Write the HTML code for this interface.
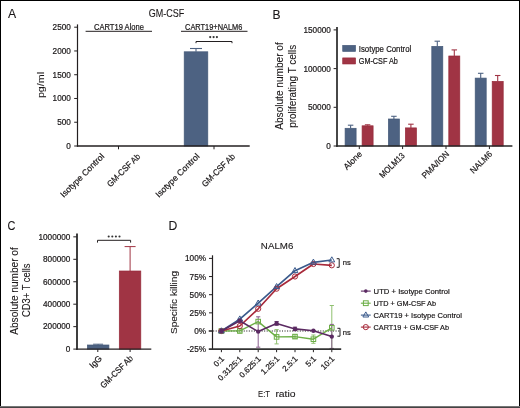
<!DOCTYPE html>
<html><head><meta charset="utf-8"><style>
html,body{margin:0;padding:0;background:#fff;}
body{width:520px;height:408px;overflow:hidden;}
svg{display:block;font-family:"Liberation Sans", sans-serif;will-change:transform;}
text{stroke:#1a1718;stroke-width:0.2px;}text.L{stroke-width:0.1px;}
</style></head><body>
<svg width="520" height="408" viewBox="0 0 520 408">
<rect x="0" y="0" width="520" height="408" fill="#fff"/>
<text x="8" y="18.4" font-size="12.2" text-anchor="start" fill="#1a1718" class="L">A</text>
<text x="166.6" y="16.6" font-size="10.6" text-anchor="middle" fill="#1a1718" textLength="35.5" lengthAdjust="spacingAndGlyphs" class="L">GM-CSF</text>
<line x1="74.2" y1="146.0" x2="77.5" y2="146.0" stroke="#231f20" stroke-width="1"/>
<text x="70.8" y="149.0" font-size="8.2" text-anchor="end" fill="#1a1718">0</text>
<line x1="74.2" y1="122.24" x2="77.5" y2="122.24" stroke="#231f20" stroke-width="1"/>
<text x="70.8" y="125.24" font-size="8.2" text-anchor="end" fill="#1a1718">500</text>
<line x1="74.2" y1="98.48" x2="77.5" y2="98.48" stroke="#231f20" stroke-width="1"/>
<text x="70.8" y="101.48" font-size="8.2" text-anchor="end" fill="#1a1718">1000</text>
<line x1="74.2" y1="74.72" x2="77.5" y2="74.72" stroke="#231f20" stroke-width="1"/>
<text x="70.8" y="77.72" font-size="8.2" text-anchor="end" fill="#1a1718">1500</text>
<line x1="74.2" y1="50.96" x2="77.5" y2="50.96" stroke="#231f20" stroke-width="1"/>
<text x="70.8" y="53.96" font-size="8.2" text-anchor="end" fill="#1a1718">2000</text>
<line x1="74.2" y1="27.2" x2="77.5" y2="27.2" stroke="#231f20" stroke-width="1"/>
<text x="70.8" y="30.2" font-size="8.2" text-anchor="end" fill="#1a1718">2500</text>
<text transform="translate(44.3,85) rotate(-90)" font-size="9.5" text-anchor="middle" fill="#1a1718" textLength="26.2" lengthAdjust="spacingAndGlyphs" class="L">pg/ml</text>
<line x1="118.5" y1="146.0" x2="118.5" y2="149.3" stroke="#231f20" stroke-width="1"/>
<line x1="214" y1="146.0" x2="214" y2="149.3" stroke="#231f20" stroke-width="1"/>
<text x="119" y="29.6" font-size="8.2" text-anchor="middle" fill="#1a1718" textLength="50" lengthAdjust="spacingAndGlyphs">CART19 Alone</text>
<line x1="85.6" y1="31.3" x2="152" y2="31.3" stroke="#231f20" stroke-width="1"/>
<text x="213.7" y="29.6" font-size="8.2" text-anchor="middle" fill="#1a1718" textLength="57.2" lengthAdjust="spacingAndGlyphs">CART19+NALM6</text>
<line x1="181" y1="31.3" x2="247.5" y2="31.3" stroke="#231f20" stroke-width="1"/>
<path d="M196,43.2 L196,41.5 L232,41.5 L232,43.2" stroke="#231f20" stroke-width="1" fill="none"/>
<circle cx="210.2" cy="37.1" r="1.1" fill="#333"/>
<circle cx="213.6" cy="37.1" r="1.1" fill="#333"/>
<circle cx="216.9" cy="37.1" r="1.1" fill="#333"/>
<rect x="184.2" y="51.8" width="23.6" height="94.2" fill="#4d6282" stroke="#435877" stroke-width="0.7"/>
<line x1="196" y1="48.5" x2="196" y2="51.8" stroke="#4d6282" stroke-width="1.1"/>
<line x1="190.0" y1="48.5" x2="202.0" y2="48.5" stroke="#4d6282" stroke-width="1.1"/>
<text transform="translate(104.8,157) rotate(-45)" font-size="8.6" text-anchor="end" fill="#1a1718" textLength="58" lengthAdjust="spacingAndGlyphs">Isotype Control</text>
<text transform="translate(140.8,157) rotate(-45)" font-size="8.6" text-anchor="end" fill="#1a1718" textLength="43" lengthAdjust="spacingAndGlyphs">GM-CSF Ab</text>
<text transform="translate(200,157) rotate(-45)" font-size="8.6" text-anchor="end" fill="#1a1718" textLength="58" lengthAdjust="spacingAndGlyphs">Isotype Control</text>
<text transform="translate(235.6,157) rotate(-45)" font-size="8.6" text-anchor="end" fill="#1a1718" textLength="43" lengthAdjust="spacingAndGlyphs">GM-CSF Ab</text>
<text x="272.4" y="18.6" font-size="12.0" text-anchor="start" fill="#1a1718" class="L">B</text>
<line x1="333.6" y1="146.0" x2="337.0" y2="146.0" stroke="#231f20" stroke-width="1"/>
<text x="330.8" y="149.0" font-size="8.2" text-anchor="end" fill="#1a1718">0</text>
<line x1="333.6" y1="107.3" x2="337.0" y2="107.3" stroke="#231f20" stroke-width="1"/>
<text x="330.8" y="110.3" font-size="8.2" text-anchor="end" fill="#1a1718">50000</text>
<line x1="333.6" y1="68.6" x2="337.0" y2="68.6" stroke="#231f20" stroke-width="1"/>
<text x="330.8" y="71.6" font-size="8.2" text-anchor="end" fill="#1a1718">100000</text>
<line x1="333.6" y1="29.9" x2="337.0" y2="29.9" stroke="#231f20" stroke-width="1"/>
<text x="330.8" y="32.9" font-size="8.2" text-anchor="end" fill="#1a1718">150000</text>
<text transform="translate(283,86) rotate(-90)" font-size="10.5" text-anchor="middle" fill="#1a1718" textLength="87.5" lengthAdjust="spacingAndGlyphs" class="L">Absolute number of</text>
<text transform="translate(295.7,86.3) rotate(-90)" font-size="10.5" text-anchor="middle" fill="#1a1718" textLength="83" lengthAdjust="spacingAndGlyphs" class="L">proliferating T cells</text>
<line x1="359.3" y1="146.0" x2="359.3" y2="149.1" stroke="#231f20" stroke-width="1"/>
<line x1="402.6" y1="146.0" x2="402.6" y2="149.1" stroke="#231f20" stroke-width="1"/>
<line x1="446.0" y1="146.0" x2="446.0" y2="149.1" stroke="#231f20" stroke-width="1"/>
<line x1="489.4" y1="146.0" x2="489.4" y2="149.1" stroke="#231f20" stroke-width="1"/>
<rect x="345.1" y="128.3" width="11.0" height="17.7" fill="#4d6282" stroke="#435877" stroke-width="0.7"/>
<line x1="350.6" y1="125.2" x2="350.6" y2="128.3" stroke="#4d6282" stroke-width="1.1"/>
<line x1="347.85" y1="125.2" x2="353.35" y2="125.2" stroke="#4d6282" stroke-width="1.1"/>
<rect x="362.1" y="125.8" width="11.0" height="20.2" fill="#a03444" stroke="#962a3a" stroke-width="0.7"/>
<line x1="367.6" y1="124.8" x2="367.6" y2="125.8" stroke="#a03444" stroke-width="1.1"/>
<line x1="364.85" y1="124.8" x2="370.35" y2="124.8" stroke="#a03444" stroke-width="1.1"/>
<rect x="388.4" y="119" width="11.0" height="27.0" fill="#4d6282" stroke="#435877" stroke-width="0.7"/>
<line x1="393.9" y1="116.3" x2="393.9" y2="119" stroke="#4d6282" stroke-width="1.1"/>
<line x1="391.15" y1="116.3" x2="396.65" y2="116.3" stroke="#4d6282" stroke-width="1.1"/>
<rect x="405.4" y="127.9" width="11.0" height="18.1" fill="#a03444" stroke="#962a3a" stroke-width="0.7"/>
<line x1="410.9" y1="124.2" x2="410.9" y2="127.9" stroke="#a03444" stroke-width="1.1"/>
<line x1="408.15" y1="124.2" x2="413.65" y2="124.2" stroke="#a03444" stroke-width="1.1"/>
<rect x="431.8" y="46.4" width="11.0" height="99.6" fill="#4d6282" stroke="#435877" stroke-width="0.7"/>
<line x1="437.3" y1="41.2" x2="437.3" y2="46.4" stroke="#4d6282" stroke-width="1.1"/>
<line x1="434.55" y1="41.2" x2="440.05" y2="41.2" stroke="#4d6282" stroke-width="1.1"/>
<rect x="448.8" y="56" width="11.0" height="90.0" fill="#a03444" stroke="#962a3a" stroke-width="0.7"/>
<line x1="454.3" y1="49.9" x2="454.3" y2="56" stroke="#a03444" stroke-width="1.1"/>
<line x1="451.55" y1="49.9" x2="457.05" y2="49.9" stroke="#a03444" stroke-width="1.1"/>
<rect x="475.2" y="78.1" width="11.0" height="67.9" fill="#4d6282" stroke="#435877" stroke-width="0.7"/>
<line x1="480.7" y1="73.3" x2="480.7" y2="78.1" stroke="#4d6282" stroke-width="1.1"/>
<line x1="477.95" y1="73.3" x2="483.45" y2="73.3" stroke="#4d6282" stroke-width="1.1"/>
<rect x="492.2" y="81.4" width="11.0" height="64.6" fill="#a03444" stroke="#962a3a" stroke-width="0.7"/>
<line x1="497.7" y1="75.5" x2="497.7" y2="81.4" stroke="#a03444" stroke-width="1.1"/>
<line x1="494.95" y1="75.5" x2="500.45" y2="75.5" stroke="#a03444" stroke-width="1.1"/>
<text transform="translate(362.6,154.6) rotate(-45)" font-size="8.6" text-anchor="end" fill="#1a1718">Alone</text>
<text transform="translate(405.3,156.1) rotate(-45)" font-size="8.6" text-anchor="end" fill="#1a1718" textLength="31.8" lengthAdjust="spacingAndGlyphs">MOLM13</text>
<text transform="translate(449.6,154.6) rotate(-45)" font-size="8.6" text-anchor="end" fill="#1a1718" textLength="34.6" lengthAdjust="spacingAndGlyphs">PMA/ION</text>
<text transform="translate(492.8,154.6) rotate(-45)" font-size="8.6" text-anchor="end" fill="#1a1718" textLength="27.3" lengthAdjust="spacingAndGlyphs">NALM6</text>
<rect x="342.7" y="45.3" width="12.9" height="6.2" fill="#4d6282" stroke="#435877" stroke-width="0.6"/>
<rect x="342.7" y="57.9" width="12.9" height="6.1" fill="#a03444" stroke="#962a3a" stroke-width="0.6"/>
<text x="358.8" y="51.6" font-size="8.6" text-anchor="start" fill="#1a1718" textLength="52.5" lengthAdjust="spacingAndGlyphs">Isotype Control</text>
<text x="358.8" y="64.0" font-size="8.6" text-anchor="start" fill="#1a1718" textLength="39" lengthAdjust="spacingAndGlyphs">GM-CSF Ab</text>
<text x="7.4" y="229.6" font-size="12.2" text-anchor="start" fill="#1a1718" textLength="7.9" lengthAdjust="spacingAndGlyphs" class="L">C</text>
<line x1="73.3" y1="349.1" x2="77.0" y2="349.1" stroke="#231f20" stroke-width="1"/>
<text x="70.4" y="351.9" font-size="8.2" text-anchor="end" fill="#1a1718">0</text>
<line x1="73.3" y1="326.65" x2="77.0" y2="326.65" stroke="#231f20" stroke-width="1"/>
<text x="70.4" y="329.45" font-size="8.2" text-anchor="end" fill="#1a1718">200000</text>
<line x1="73.3" y1="304.2" x2="77.0" y2="304.2" stroke="#231f20" stroke-width="1"/>
<text x="70.4" y="307" font-size="8.2" text-anchor="end" fill="#1a1718">400000</text>
<line x1="73.3" y1="281.75" x2="77.0" y2="281.75" stroke="#231f20" stroke-width="1"/>
<text x="70.4" y="284.55" font-size="8.2" text-anchor="end" fill="#1a1718">600000</text>
<line x1="73.3" y1="259.3" x2="77.0" y2="259.3" stroke="#231f20" stroke-width="1"/>
<text x="70.4" y="262.1" font-size="8.2" text-anchor="end" fill="#1a1718">800000</text>
<line x1="73.3" y1="236.85" x2="77.0" y2="236.85" stroke="#231f20" stroke-width="1"/>
<text x="70.4" y="239.65" font-size="8.2" text-anchor="end" fill="#1a1718">1000000</text>
<text transform="translate(17.6,291) rotate(-90)" font-size="10.5" text-anchor="middle" fill="#1a1718" textLength="87.5" lengthAdjust="spacingAndGlyphs" class="L">Absolute number of</text>
<text transform="translate(29.8,290.2) rotate(-90)" font-size="10.5" text-anchor="middle" fill="#1a1718" textLength="53.5" lengthAdjust="spacingAndGlyphs" class="L">CD3+ T cells</text>
<line x1="97.8" y1="349.1" x2="97.8" y2="352" stroke="#231f20" stroke-width="1"/>
<line x1="130.1" y1="349.1" x2="130.1" y2="352" stroke="#231f20" stroke-width="1"/>
<rect x="87.4" y="345" width="21.5" height="4.1" fill="#4d6282" stroke="#435877" stroke-width="0.7"/>
<line x1="98.1" y1="344.2" x2="98.1" y2="345" stroke="#4d6282" stroke-width="1"/>
<line x1="93.1" y1="344.2" x2="103.1" y2="344.2" stroke="#4d6282" stroke-width="1"/>
<rect x="119.3" y="271" width="21.5" height="78.1" fill="#a03444" stroke="#962a3a" stroke-width="0.7"/>
<line x1="130.1" y1="246.6" x2="130.1" y2="271" stroke="#a03444" stroke-width="1"/>
<line x1="124.6" y1="246.6" x2="135.6" y2="246.6" stroke="#a03444" stroke-width="1"/>
<path d="M97.5,242.6 L97.5,240.3 L130.6,240.3 L130.6,242.6" stroke="#231f20" stroke-width="1" fill="none"/>
<circle cx="108.7" cy="236.5" r="1.05" fill="#333"/>
<circle cx="112.3" cy="236.5" r="1.05" fill="#333"/>
<circle cx="115.9" cy="236.5" r="1.05" fill="#333"/>
<circle cx="119.5" cy="236.5" r="1.05" fill="#333"/>
<text transform="translate(102.5,359) rotate(-45)" font-size="8.6" text-anchor="end" fill="#1a1718">IgG</text>
<text transform="translate(133.5,359) rotate(-45)" font-size="8.6" text-anchor="end" fill="#1a1718" textLength="42" lengthAdjust="spacingAndGlyphs">GM-CSF Ab</text>
<text x="168.5" y="229.6" font-size="12.2" text-anchor="start" fill="#1a1718" class="L">D</text>
<text x="206.0" y="352.1" font-size="8.2" text-anchor="end" fill="#1a1718">-25%</text>
<line x1="209.0" y1="331.0" x2="212.5" y2="331.0" stroke="#231f20" stroke-width="1"/>
<text x="206.0" y="334.0" font-size="8.2" text-anchor="end" fill="#1a1718">0%</text>
<line x1="209.0" y1="312.85" x2="212.5" y2="312.85" stroke="#231f20" stroke-width="1"/>
<text x="206.0" y="315.85" font-size="8.2" text-anchor="end" fill="#1a1718">25%</text>
<line x1="209.0" y1="294.7" x2="212.5" y2="294.7" stroke="#231f20" stroke-width="1"/>
<text x="206.0" y="297.7" font-size="8.2" text-anchor="end" fill="#1a1718">50%</text>
<line x1="209.0" y1="276.55" x2="212.5" y2="276.55" stroke="#231f20" stroke-width="1"/>
<text x="206.0" y="279.55" font-size="8.2" text-anchor="end" fill="#1a1718">75%</text>
<line x1="209.0" y1="258.4" x2="212.5" y2="258.4" stroke="#231f20" stroke-width="1"/>
<text x="206.0" y="261.4" font-size="8.2" text-anchor="end" fill="#1a1718">100%</text>
<text transform="translate(177.0,302.5) rotate(-90)" font-size="9.8" text-anchor="middle" fill="#1a1718" textLength="63" lengthAdjust="spacingAndGlyphs" class="L">Specific killing</text>
<text x="277.1" y="249.4" font-size="9.8" text-anchor="middle" fill="#1a1718" textLength="32.5" lengthAdjust="spacingAndGlyphs" class="L">NALM6</text>
<line x1="221.4" y1="349.0" x2="221.4" y2="352.2" stroke="#231f20" stroke-width="1"/>
<line x1="239.8" y1="349.0" x2="239.8" y2="352.2" stroke="#231f20" stroke-width="1"/>
<line x1="258.2" y1="349.0" x2="258.2" y2="352.2" stroke="#231f20" stroke-width="1"/>
<line x1="276.6" y1="349.0" x2="276.6" y2="352.2" stroke="#231f20" stroke-width="1"/>
<line x1="295.0" y1="349.0" x2="295.0" y2="352.2" stroke="#231f20" stroke-width="1"/>
<line x1="313.4" y1="349.0" x2="313.4" y2="352.2" stroke="#231f20" stroke-width="1"/>
<line x1="331.8" y1="349.0" x2="331.8" y2="352.2" stroke="#231f20" stroke-width="1"/>
<line x1="208.6" y1="331.0" x2="212.5" y2="331.0" stroke="#231f20" stroke-width="1"/>
<line x1="213.1" y1="331.0" x2="340" y2="331.0" stroke="#231f20" stroke-width="1.2" stroke-dasharray="1.1,1.45"/>
<line x1="276.6" y1="329.6" x2="276.6" y2="343.9" stroke="#8fc070" stroke-width="1"/>
<line x1="274.5" y1="329.6" x2="278.7" y2="329.6" stroke="#8fc070" stroke-width="1"/>
<line x1="274.5" y1="343.9" x2="278.7" y2="343.9" stroke="#8fc070" stroke-width="1"/>
<line x1="295.0" y1="334.8" x2="295.0" y2="338.4" stroke="#8fc070" stroke-width="1"/>
<line x1="292.9" y1="334.8" x2="297.1" y2="334.8" stroke="#8fc070" stroke-width="1"/>
<line x1="292.9" y1="338.4" x2="297.1" y2="338.4" stroke="#8fc070" stroke-width="1"/>
<line x1="313.4" y1="335.0" x2="313.4" y2="343.3" stroke="#8fc070" stroke-width="1"/>
<line x1="311.3" y1="335.0" x2="315.5" y2="335.0" stroke="#8fc070" stroke-width="1"/>
<line x1="311.3" y1="343.3" x2="315.5" y2="343.3" stroke="#8fc070" stroke-width="1"/>
<line x1="331.8" y1="305.5" x2="331.8" y2="348.5" stroke="#8fc070" stroke-width="1"/>
<line x1="329.7" y1="305.5" x2="333.9" y2="305.5" stroke="#8fc070" stroke-width="1"/>
<line x1="329.7" y1="348.5" x2="333.9" y2="348.5" stroke="#8fc070" stroke-width="1"/>
<line x1="239.8" y1="329.0" x2="239.8" y2="333.0" stroke="#8fc070" stroke-width="1"/>
<line x1="237.7" y1="329.0" x2="241.9" y2="329.0" stroke="#8fc070" stroke-width="1"/>
<line x1="237.7" y1="333.0" x2="241.9" y2="333.0" stroke="#8fc070" stroke-width="1"/>
<line x1="258.2" y1="316.8" x2="258.2" y2="347.2" stroke="#8a5f8f" stroke-width="1"/>
<line x1="256.1" y1="316.8" x2="260.3" y2="316.8" stroke="#8a5f8f" stroke-width="1"/>
<line x1="256.1" y1="347.2" x2="260.3" y2="347.2" stroke="#8a5f8f" stroke-width="1"/>
<line x1="331.8" y1="324.4" x2="331.8" y2="348.4" stroke="#8a5f8f" stroke-width="1"/>
<line x1="329.7" y1="324.4" x2="333.9" y2="324.4" stroke="#8a5f8f" stroke-width="1"/>
<line x1="329.7" y1="348.4" x2="333.9" y2="348.4" stroke="#8a5f8f" stroke-width="1"/>
<line x1="239.8" y1="319.0" x2="239.8" y2="322.6" stroke="#8a5f8f" stroke-width="1"/>
<line x1="237.7" y1="319.0" x2="241.9" y2="319.0" stroke="#8a5f8f" stroke-width="1"/>
<line x1="237.7" y1="322.6" x2="241.9" y2="322.6" stroke="#8a5f8f" stroke-width="1"/>
<line x1="276.6" y1="321.6" x2="276.6" y2="325.2" stroke="#5b2a62" stroke-width="1"/>
<line x1="274.5" y1="321.6" x2="278.7" y2="321.6" stroke="#5b2a62" stroke-width="1"/>
<line x1="274.5" y1="325.2" x2="278.7" y2="325.2" stroke="#5b2a62" stroke-width="1"/>
<line x1="295.0" y1="327.2" x2="295.0" y2="330.6" stroke="#5b2a62" stroke-width="1"/>
<line x1="292.9" y1="327.2" x2="297.1" y2="327.2" stroke="#5b2a62" stroke-width="1"/>
<line x1="292.9" y1="330.6" x2="297.1" y2="330.6" stroke="#5b2a62" stroke-width="1"/>
<polyline points="221.4,331.0 239.8,330.9 258.2,321.6 276.6,336.9 295.0,336.6 313.4,339.2 331.8,327.8" fill="none" stroke="#6cae46" stroke-width="1.4" stroke-linejoin="round"/>
<rect x="219.1" y="328.7" width="4.6" height="4.6" fill="none" stroke="#6cae46" stroke-width="1"/>
<rect x="237.5" y="328.6" width="4.6" height="4.6" fill="none" stroke="#6cae46" stroke-width="1"/>
<rect x="255.9" y="319.3" width="4.6" height="4.6" fill="none" stroke="#6cae46" stroke-width="1"/>
<rect x="274.3" y="334.6" width="4.6" height="4.6" fill="none" stroke="#6cae46" stroke-width="1"/>
<rect x="292.7" y="334.3" width="4.6" height="4.6" fill="none" stroke="#6cae46" stroke-width="1"/>
<rect x="311.1" y="336.9" width="4.6" height="4.6" fill="none" stroke="#6cae46" stroke-width="1"/>
<rect x="329.5" y="325.5" width="4.6" height="4.6" fill="none" stroke="#6cae46" stroke-width="1"/>
<polyline points="221.4,331.0 239.8,326.0 258.2,308.8 276.6,288.7 295.0,276.5 313.4,264.0 331.8,265.3" fill="none" stroke="#a82a3b" stroke-width="1.7" stroke-linejoin="round"/>
<polyline points="221.4,331.0 239.8,319.1 258.2,303.2 276.6,286.7 295.0,270.7 313.4,262.3 331.8,260.0" fill="none" stroke="#3a5a8c" stroke-width="1.7" stroke-linejoin="round"/>
<circle cx="221.4" cy="331" r="2.6" fill="none" stroke="#a82a3b" stroke-width="1"/>
<circle cx="239.8" cy="326.0" r="2.6" fill="none" stroke="#a82a3b" stroke-width="1"/>
<circle cx="258.2" cy="308.8" r="2.6" fill="none" stroke="#a82a3b" stroke-width="1"/>
<circle cx="276.6" cy="288.7" r="2.6" fill="none" stroke="#a82a3b" stroke-width="1"/>
<circle cx="295.0" cy="276.5" r="2.6" fill="none" stroke="#a82a3b" stroke-width="1"/>
<circle cx="313.4" cy="264.0" r="2.6" fill="none" stroke="#a82a3b" stroke-width="1"/>
<circle cx="331.8" cy="265.3" r="2.6" fill="none" stroke="#a82a3b" stroke-width="1"/>
<path d="M221.4,327.8 L224.3,332.9 L218.5,332.9 Z" fill="none" stroke="#3a5a8c" stroke-width="1"/>
<path d="M239.8,315.9 L242.7,321.0 L236.9,321.0 Z" fill="none" stroke="#3a5a8c" stroke-width="1"/>
<path d="M258.2,300.0 L261.1,305.1 L255.3,305.1 Z" fill="none" stroke="#3a5a8c" stroke-width="1"/>
<path d="M276.6,283.5 L279.5,288.6 L273.7,288.6 Z" fill="none" stroke="#3a5a8c" stroke-width="1"/>
<path d="M295.0,267.5 L297.9,272.6 L292.1,272.6 Z" fill="none" stroke="#3a5a8c" stroke-width="1"/>
<path d="M313.4,259.1 L316.3,264.2 L310.5,264.2 Z" fill="none" stroke="#3a5a8c" stroke-width="1"/>
<path d="M331.8,256.8 L334.7,261.9 L328.9,261.9 Z" fill="none" stroke="#3a5a8c" stroke-width="1"/>
<polyline points="221.4,331.0 239.8,320.8 258.2,331.6 276.6,323.4 295.0,328.9 313.4,330.7 331.8,336.6" fill="none" stroke="#5b2a62" stroke-width="1.6" stroke-linejoin="round"/>
<circle cx="221.4" cy="331" r="2.2" fill="#5b2a62"/>
<circle cx="239.8" cy="320.8" r="2.2" fill="#5b2a62"/>
<circle cx="258.2" cy="331.6" r="2.2" fill="#5b2a62"/>
<circle cx="276.6" cy="323.4" r="2.2" fill="#5b2a62"/>
<circle cx="295.0" cy="328.9" r="2.2" fill="#5b2a62"/>
<circle cx="313.4" cy="330.7" r="2.2" fill="#5b2a62"/>
<circle cx="331.8" cy="336.6" r="2.2" fill="#5b2a62"/>
<path d="M336.7,258.7 L339.2,258.7 L339.2,267.3 L336.7,267.3" stroke="#231f20" stroke-width="1" fill="none"/>
<text x="342.8" y="265.4" font-size="7.6" text-anchor="start" fill="#1a1718">ns</text>
<path d="M337.4,328.3 L340,328.3 L340,336.2 L337.4,336.2" stroke="#231f20" stroke-width="1" fill="none"/>
<text x="342.8" y="335.2" font-size="7.6" text-anchor="start" fill="#1a1718">ns</text>
<line x1="360.9" y1="291.1" x2="370.7" y2="291.1" stroke="#5b2a62" stroke-width="1.1"/>
<circle cx="365.8" cy="291.1" r="1.8" fill="#5b2a62"/>
<text x="373.6" y="293.9" font-size="8.0" text-anchor="start" fill="#1a1718" textLength="76.2" lengthAdjust="spacingAndGlyphs">UTD + Isotype Control</text>
<line x1="360.9" y1="303.2" x2="370.7" y2="303.2" stroke="#6cae46" stroke-width="1.1"/>
<rect x="363.4" y="300.8" width="4.8" height="4.8" fill="none" stroke="#6cae46" stroke-width="1"/>
<text x="373.6" y="306.0" font-size="8.0" text-anchor="start" fill="#1a1718" textLength="62.4" lengthAdjust="spacingAndGlyphs">UTD + GM-CSF Ab</text>
<line x1="360.9" y1="315.1" x2="370.7" y2="315.1" stroke="#3a5a8c" stroke-width="1.1"/>
<path d="M365.8,311.9 L368.7,317.0 L362.9,317.0 Z" fill="none" stroke="#3a5a8c" stroke-width="1"/>
<text x="373.6" y="317.9" font-size="8.0" text-anchor="start" fill="#1a1718" textLength="88.4" lengthAdjust="spacingAndGlyphs">CART19 + Isotype Control</text>
<line x1="360.9" y1="327.1" x2="370.7" y2="327.1" stroke="#a82a3b" stroke-width="1.1"/>
<circle cx="365.8" cy="327.1" r="2.6" fill="none" stroke="#a82a3b" stroke-width="1"/>
<text x="373.6" y="329.9" font-size="8.0" text-anchor="start" fill="#1a1718" textLength="75.4" lengthAdjust="spacingAndGlyphs">CART19 + GM-CSF Ab</text>
<text transform="translate(224.6,359.3) rotate(-45)" font-size="8.0" text-anchor="end" fill="#1a1718">0:1</text>
<text transform="translate(243.0,359.3) rotate(-45)" font-size="8.0" text-anchor="end" fill="#1a1718">0.3125:1</text>
<text transform="translate(261.4,359.3) rotate(-45)" font-size="8.0" text-anchor="end" fill="#1a1718">0.625:1</text>
<text transform="translate(279.8,359.3) rotate(-45)" font-size="8.0" text-anchor="end" fill="#1a1718">1.25:1</text>
<text transform="translate(298.2,359.3) rotate(-45)" font-size="8.0" text-anchor="end" fill="#1a1718">2.5:1</text>
<text transform="translate(316.6,359.3) rotate(-45)" font-size="8.0" text-anchor="end" fill="#1a1718">5:1</text>
<text transform="translate(335.0,359.3) rotate(-45)" font-size="8.0" text-anchor="end" fill="#1a1718">10:1</text>
<text x="258.0" y="397.4" font-size="9.9" text-anchor="start" fill="#1a1718" textLength="12.0" lengthAdjust="spacingAndGlyphs" class="L">E:T</text>
<text x="275.4" y="397.4" font-size="9.9" text-anchor="start" fill="#1a1718" textLength="20.2" lengthAdjust="spacingAndGlyphs" class="L">ratio</text>
<line x1="77.5" y1="24.4" x2="77.5" y2="146.6" stroke="#231f20" stroke-width="1.2"/>
<line x1="76.9" y1="146.0" x2="249.7" y2="146.0" stroke="#231f20" stroke-width="1.4"/>
<line x1="337.0" y1="27.1" x2="337.0" y2="146.7" stroke="#333" stroke-width="1.8"/>
<line x1="336.1" y1="146.0" x2="512.4" y2="146.0" stroke="#262626" stroke-width="1.6"/>
<line x1="77.0" y1="233.5" x2="77.0" y2="349.7" stroke="#2a2a2a" stroke-width="1.8"/>
<line x1="76.1" y1="349.1" x2="151.3" y2="349.1" stroke="#231f20" stroke-width="1.4"/>
<line x1="212.5" y1="255.3" x2="212.5" y2="349.7" stroke="#231f20" stroke-width="1.2"/>
<line x1="208.8" y1="349.1" x2="341.2" y2="349.1" stroke="#333" stroke-width="1.6"/>
<rect x="0.5" y="0.5" width="519" height="407" fill="none" stroke="#000" stroke-width="1"/>
<line x1="0" y1="406.5" x2="520" y2="406.5" stroke="#777" stroke-width="1"/>
<line x1="0" y1="407.5" x2="520" y2="407.5" stroke="#444" stroke-width="1"/>
</svg>
</body></html>
